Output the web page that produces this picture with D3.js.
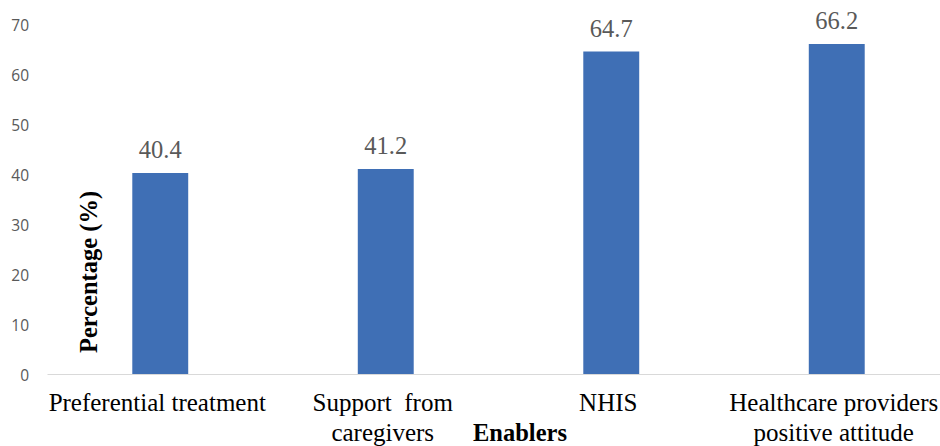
<!DOCTYPE html>
<html><head><meta charset="utf-8">
<script src="https://cdn.jsdelivr.net/npm/d3@7"></script>
<style>body{margin:0;background:#fff}svg{display:block}</style>
</head><body>
<script>
const categories = [["Preferential treatment"], ["Support  from", "caregivers"], ["NHIS"], ["Healthcare providers", "positive attitude"]];
const values = [40.4, 41.2, 64.7, 66.2];
const yTicks = [0, 10, 20, 30, 40, 50, 60, 70];
const yTitle = "Percentage (%)";
const xTitle = "Enablers";

const W = 940, H = 446;
const svg = d3.select("body").append("svg").attr("width", W).attr("height", H);
const keys = categories.map((c, i) => i);
const x = d3.scaleBand().domain(keys).range([47.5, 949.5]).paddingInner(0.752).paddingOuter(0.376);
const y = d3.scaleLinear().domain([0, 70]).range([375, 25]);

// y tick labels
svg.append("g").selectAll("text").data(yTicks).join("text")
  .attr("x", 29).attr("y", d => y(d)).attr("dy", "0.36em")
  .attr("text-anchor", "end").attr("font-family", "Open Sans, sans-serif")
  .attr("font-size", 15.5).attr("fill", "#595959").text(d => d);

// bars
svg.append("g").selectAll("rect").data(values).join("rect")
  .attr("x", (d, i) => x(i)).attr("width", x.bandwidth())
  .attr("y", d => y(d)).attr("height", d => y(0) - y(d))
  .attr("fill", "#3f6fb5");

// baseline axis
svg.append("line").attr("x1", 47.5).attr("x2", 940).attr("y1", y(0) - 0.5).attr("y2", y(0) - 0.5)
  .attr("stroke", "#d9d9d9").attr("stroke-width", 1);

// data labels
svg.append("g").selectAll("text").data(values).join("text")
  .attr("x", (d, i) => x(i) + x.bandwidth() / 2).attr("y", d => y(d) - 15)
  .attr("text-anchor", "middle").attr("font-family", "Liberation Serif, serif")
  .attr("font-size", 24.5).attr("fill", "#595959").text(d => d.toFixed(1));

// category labels
const cat = svg.append("g").selectAll("text").data(categories).join("text")
  .attr("x", (d, i) => x(i) + x.bandwidth() / 2 - 3).attr("y", 411)
  .attr("text-anchor", "middle").attr("font-family", "Liberation Serif, serif")
  .attr("font-size", 25).attr("fill", "#000").style("white-space", "pre");
cat.selectAll("tspan").data(d => d).join("tspan")
  .attr("x", function() { return this.parentNode.getAttribute("x"); })
  .attr("dy", (d, j) => j === 0 ? 0 : 30).text(d => d);

// x title
svg.append("text").attr("x", 520).attr("y", 441).attr("text-anchor", "middle")
  .attr("font-family", "Liberation Serif, serif").attr("font-weight", "bold")
  .attr("font-size", 24.5).attr("fill", "#000").text(xTitle);

// y title
svg.append("text").attr("transform", "translate(97,272) rotate(-90)").attr("text-anchor", "middle")
  .attr("font-family", "Liberation Serif, serif").attr("font-weight", "bold")
  .attr("font-size", 24.5).attr("fill", "#000").text(yTitle);
</script>
</body></html>
